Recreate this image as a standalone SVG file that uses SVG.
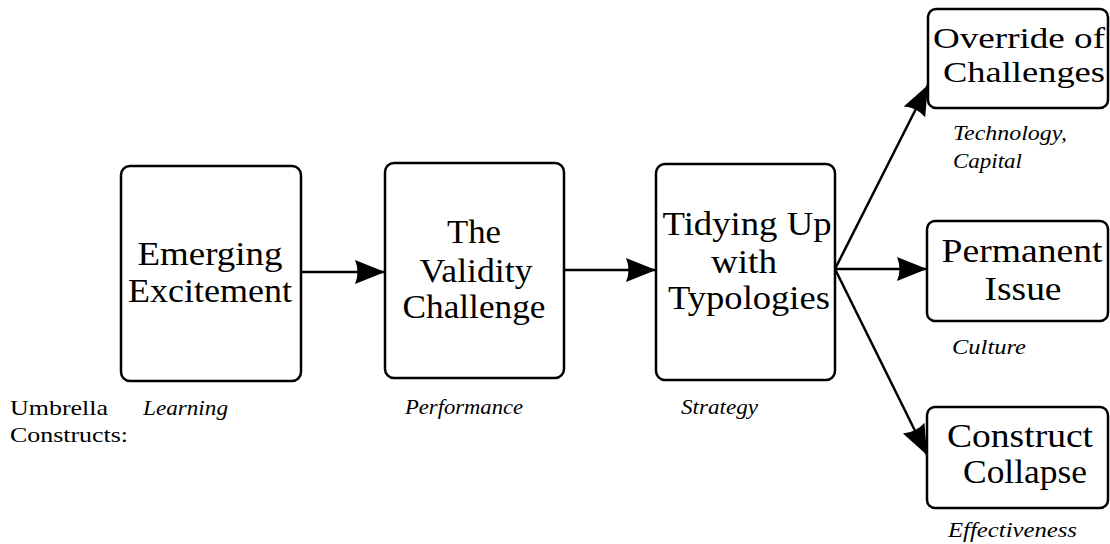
<svg xmlns="http://www.w3.org/2000/svg" width="1110" height="544" viewBox="0 0 1110 544">
<style>
.box{fill:#fff;stroke:#000;stroke-width:2.5}
.t{font-family:"Liberation Serif","Times New Roman",serif;font-size:33px;fill:#000;text-anchor:middle}
.s{font-size:30px}
.i{font-family:"Liberation Serif","Times New Roman",serif;font-size:21px;font-style:italic;fill:#000}
.r{font-family:"Liberation Serif","Times New Roman",serif;font-size:21px;fill:#000}
.c{stroke:#000;stroke-width:2.5;fill:none;marker-end:url(#ah)}
</style>
<defs>
<marker id="ah" markerUnits="userSpaceOnUse" markerWidth="32" markerHeight="26" refX="30" refY="12" orient="auto">
<path d="M0,0 L30,12 L0,24 Q5,12 0,0 z" fill="#000"/>
</marker>
</defs>
<rect width="1110" height="544" fill="#fff"/>
<g id="connectors">
<line class="c" x1="301" y1="272" x2="385" y2="272"/>
<line class="c" x1="564" y1="270" x2="656" y2="270"/>
<line class="c" x1="835" y1="269" x2="927" y2="269"/>
<line class="c" x1="835" y1="269" x2="928" y2="85"/>
<line class="c" x1="835" y1="269" x2="927" y2="455"/>
</g>
<g id="n1">
<rect class="box" x="121" y="166" width="180" height="215" rx="9"/>
<text class="t" x="210" y="265" textLength="145" lengthAdjust="spacingAndGlyphs">Emerging</text>
<text class="t" x="210" y="302" textLength="164" lengthAdjust="spacingAndGlyphs">Excitement</text>
</g>
<g id="n2">
<rect class="box" x="385" y="163" width="179" height="215" rx="9"/>
<text class="t" x="474" y="243" textLength="54" lengthAdjust="spacingAndGlyphs">The</text>
<text class="t" x="476" y="282" textLength="113" lengthAdjust="spacingAndGlyphs">Validity</text>
<text class="t" x="474" y="318" textLength="143" lengthAdjust="spacingAndGlyphs">Challenge</text>
</g>
<g id="n3">
<rect class="box" x="656" y="164" width="179" height="216" rx="9"/>
<text class="t" x="747" y="235" textLength="169" lengthAdjust="spacingAndGlyphs">Tidying Up</text>
<text class="t" x="744" y="273" textLength="66" lengthAdjust="spacingAndGlyphs">with</text>
<text class="t" x="749" y="309" textLength="162" lengthAdjust="spacingAndGlyphs">Typologies</text>
</g>
<g id="n4">
<rect class="box" x="928" y="9" width="180" height="99" rx="8"/>
<text class="t s" x="1019" y="48" textLength="172" lengthAdjust="spacingAndGlyphs">Override of</text>
<text class="t s" x="1024" y="82" textLength="162" lengthAdjust="spacingAndGlyphs">Challenges</text>
</g>
<g id="n5">
<rect class="box" x="927" y="221" width="181" height="100" rx="8"/>
<text class="t" x="1022" y="262" textLength="161" lengthAdjust="spacingAndGlyphs">Permanent</text>
<text class="t" x="1023" y="300" textLength="77" lengthAdjust="spacingAndGlyphs">Issue</text>
</g>
<g id="n6">
<rect class="box" x="927" y="407" width="181" height="101" rx="8"/>
<text class="t" x="1020" y="447" textLength="146" lengthAdjust="spacingAndGlyphs">Construct</text>
<text class="t" x="1025" y="483" textLength="124" lengthAdjust="spacingAndGlyphs">Collapse</text>
</g>
<g id="labels">
<text class="i" x="953" y="140" textLength="114" lengthAdjust="spacingAndGlyphs">Technology,</text>
<text class="i" x="953" y="168" textLength="69" lengthAdjust="spacingAndGlyphs">Capital</text>
<text class="i" x="952" y="354" textLength="74" lengthAdjust="spacingAndGlyphs">Culture</text>
<text class="i" x="948" y="537" textLength="129" lengthAdjust="spacingAndGlyphs">Effectiveness</text>
<text class="r" x="10" y="415" textLength="98" lengthAdjust="spacingAndGlyphs">Umbrella</text>
<text class="r" x="10" y="442" textLength="118" lengthAdjust="spacingAndGlyphs">Constructs:</text>
<text class="i" x="143" y="415" textLength="85" lengthAdjust="spacingAndGlyphs">Learning</text>
<text class="i" x="405" y="414" textLength="118" lengthAdjust="spacingAndGlyphs">Performance</text>
<text class="i" x="681" y="414" textLength="77" lengthAdjust="spacingAndGlyphs">Strategy</text>
</g>
</svg>
